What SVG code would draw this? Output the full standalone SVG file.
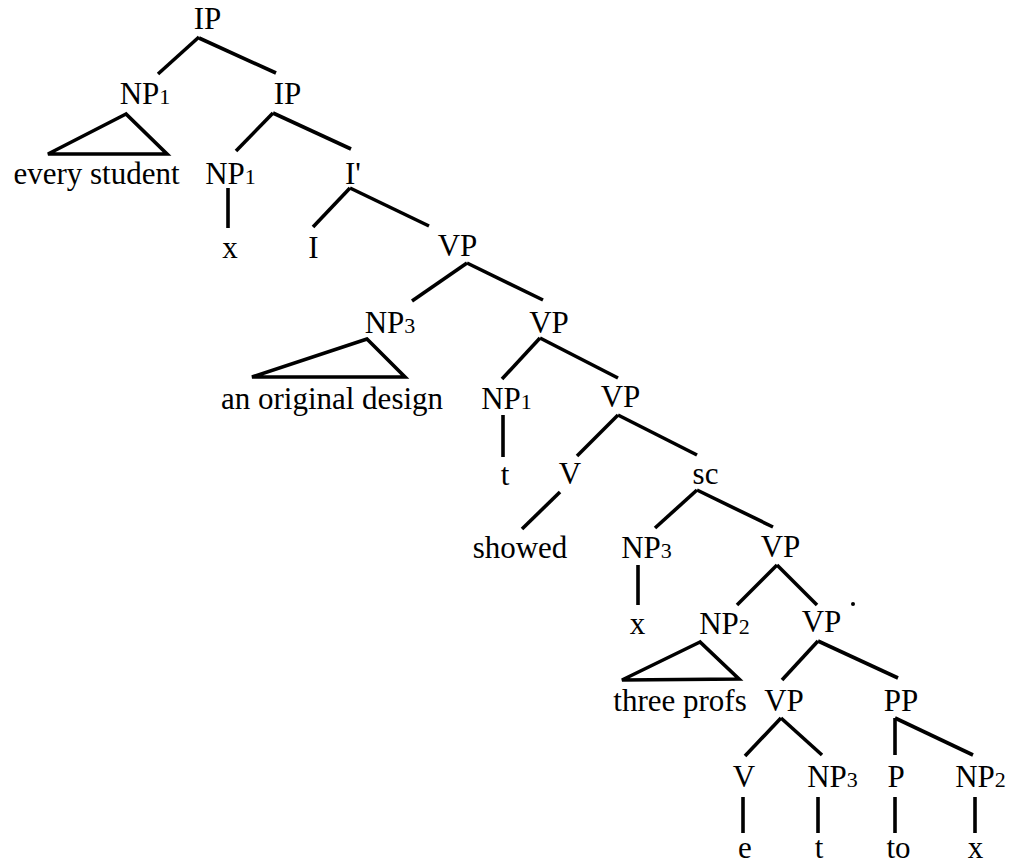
<svg xmlns="http://www.w3.org/2000/svg" width="1012" height="865" viewBox="0 0 1012 865">
<style>
text{font-family:'Liberation Serif',Tinos,'Times New Roman',Times,'DejaVu Serif',serif;font-size:31px;fill:#000;text-anchor:middle}
.s{font-size:22px}
line,polygon{stroke:#000;stroke-width:3.6;fill:none;stroke-linecap:butt;stroke-linejoin:miter}
</style>
<rect width="1012" height="865" fill="#fff"/>
<g id="connectors">
<line x1="199" y1="37" x2="158" y2="74"/>
<line x1="199" y1="38" x2="276" y2="73"/>
<polygon points="126,114 48,154 167,154"/>
<line x1="273" y1="113" x2="236" y2="151"/>
<line x1="273" y1="113" x2="351" y2="149"/>
<line x1="228" y1="188" x2="228" y2="228"/>
<line x1="350" y1="188" x2="313" y2="227"/>
<line x1="350" y1="188" x2="429" y2="226"/>
<line x1="467" y1="263" x2="412" y2="301"/>
<line x1="467" y1="263" x2="543" y2="300"/>
<polygon points="367,339 252,377 405,377"/>
<line x1="540" y1="338" x2="502" y2="379"/>
<line x1="540" y1="338" x2="618" y2="378"/>
<line x1="503" y1="415" x2="503" y2="457"/>
<line x1="618" y1="415" x2="577" y2="456"/>
<line x1="618" y1="415" x2="697" y2="455"/>
<line x1="560" y1="492" x2="522" y2="529"/>
<line x1="697" y1="490" x2="655" y2="528"/>
<line x1="697" y1="490" x2="773" y2="527"/>
<line x1="638" y1="565" x2="638" y2="605"/>
<line x1="777" y1="565" x2="737" y2="605"/>
<line x1="777" y1="565" x2="817" y2="605"/>
<polygon points="700,642 622,680 739,679"/>
<line x1="818" y1="641" x2="782" y2="680"/>
<line x1="818" y1="641" x2="898" y2="678"/>
<line x1="781" y1="718" x2="745" y2="756"/>
<line x1="781" y1="718" x2="822" y2="755"/>
<line x1="895" y1="718" x2="895" y2="755"/>
<line x1="895" y1="718" x2="973" y2="755"/>
<line x1="743" y1="797" x2="743" y2="833"/>
<line x1="818" y1="797" x2="818" y2="833"/>
<line x1="895" y1="797" x2="895" y2="833"/>
<line x1="975" y1="797" x2="975" y2="833"/>
</g>
<g id="n1"><text x="207.5" y="29">IP</text></g>
<g id="n2"><text x="145" y="104">NP<tspan class="s">1</tspan></text></g>
<g id="n3"><text x="287.5" y="104">IP</text></g>
<g id="n4"><text x="96.5" y="184">every student</text></g>
<g id="n5"><text x="230.5" y="184">NP<tspan class="s">1</tspan></text></g>
<g id="n6"><text x="353" y="184">I'</text></g>
<g id="n7"><text x="230" y="258">x</text></g>
<g id="n8"><text x="313.5" y="258">I</text></g>
<g id="n9"><text x="457.5" y="256">VP</text></g>
<g id="n10"><text x="390" y="333">NP<tspan class="s">3</tspan></text></g>
<g id="n11"><text x="549" y="333">VP</text></g>
<g id="n12"><text x="332" y="409">an original design</text></g>
<g id="n13"><text x="506.5" y="409">NP<tspan class="s">1</tspan></text></g>
<g id="n14"><text x="620.5" y="407">VP</text></g>
<g id="n15"><text x="505" y="485">t</text></g>
<g id="n16"><text x="570" y="484">V</text></g>
<g id="n17"><text x="705.5" y="484">sc</text></g>
<g id="n18"><text x="520" y="558">showed</text></g>
<g id="n19"><text x="646.5" y="558">NP<tspan class="s">3</tspan></text></g>
<g id="n20"><text x="780.5" y="557">VP</text></g>
<g id="n21"><text x="637.5" y="634">x</text></g>
<g id="n22"><text x="724.5" y="634">NP<tspan class="s">2</tspan></text></g>
<g id="n23"><text x="821.5" y="632">VP</text><circle cx="853" cy="604" r="2" fill="#000"/></g>
<g id="n24"><text x="680" y="711">three profs</text></g>
<g id="n25"><text x="784" y="711">VP</text></g>
<g id="n26"><text x="901" y="711">PP</text></g>
<g id="n27"><text x="744" y="787">V</text></g>
<g id="n28"><text x="832.5" y="787">NP<tspan class="s">3</tspan></text></g>
<g id="n29"><text x="896" y="787">P</text></g>
<g id="n30"><text x="980.5" y="787">NP<tspan class="s">2</tspan></text></g>
<g id="n31"><text x="745" y="858">e</text></g>
<g id="n32"><text x="819" y="858">t</text></g>
<g id="n33"><text x="898.5" y="858">to</text></g>
<g id="n34"><text x="975.5" y="858">x</text></g>
</svg>
